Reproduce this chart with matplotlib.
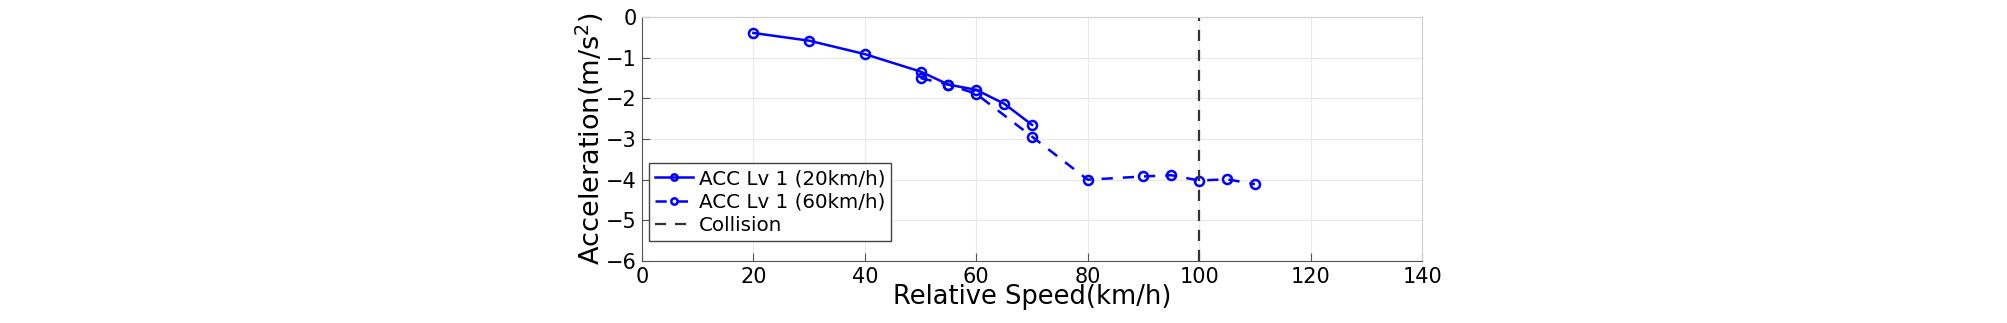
import matplotlib
matplotlib.use("Agg")
import matplotlib.pyplot as plt

plt.rcParams['font.family'] = ['DejaVu Sans']

speed_20 = [20, 30, 40, 50, 55, 60, 65, 70]
acc_20 = [-0.39, -0.58, -0.91, -1.34, -1.66, -1.79, -2.13, -2.65]
speed_60 = [50, 55, 60, 70, 80, 90, 95, 100, 105, 110]
acc_60 = [-1.50, -1.66, -1.89, -2.94, -4.00, -3.92, -3.89, -4.02, -3.99, -4.11]
collision_speed = 100
xticks = [0, 20, 40, 60, 80, 100, 120, 140]
yticks = [0, -1, -2, -3, -4, -5, -6]

fig = plt.figure(figsize=(20.08, 3.23), dpi=100)
ax = fig.add_axes([0.3197, 0.192, 0.3885, 0.755])

ax.plot(speed_20, acc_20, '-o', color='#0000ff', lw=1.8, ms=6.5, mfc='none', mew=1.8,
        label='ACC Lv 1 (20km/h)')
ax.plot(speed_60, acc_60, '--o', color='#0000ff', lw=1.8, ms=6.5, mfc='none', mew=1.8,
        dashes=(4.5, 4), label='ACC Lv 1 (60km/h)')
ax.axvline(collision_speed, color='#333333', lw=1.6, ls='--', dashes=(5, 4), label='Collision')

ax.set_xlim(0, 140)
ax.set_ylim(-6, 0)
ax.set_xticks(xticks)
ax.set_yticks(yticks)
ax.grid(True, color='#e8e8e8', lw=0.8)
ax.set_axisbelow(True)
for s in ['top', 'right']:
    ax.spines[s].set_color('#d0d0d0')
for s in ['left', 'bottom']:
    ax.spines[s].set_color('#555555')
ax.tick_params(direction='in', length=6, colors='#555555', labelcolor='black', labelsize=15,
               top=False, right=False, pad=4)
ax.set_xlabel('Relative Speed(km/h)', fontsize=18.5, labelpad=-2)
ax.set_ylabel('Acceleration(m/s$^2$)', fontsize=19.5, labelpad=0)

leg = ax.legend(loc='lower left', bbox_to_anchor=(0.009, 0.082), fontsize=14.3,
                frameon=True, fancybox=False, edgecolor='#444444', framealpha=1,
                borderpad=0.3, labelspacing=0.22, handlelength=1.9, handletextpad=0.3,
                borderaxespad=0, markerscale=0.7)
leg.get_frame().set_linewidth(1.0)

fig.savefig('out.png', dpi=100)
